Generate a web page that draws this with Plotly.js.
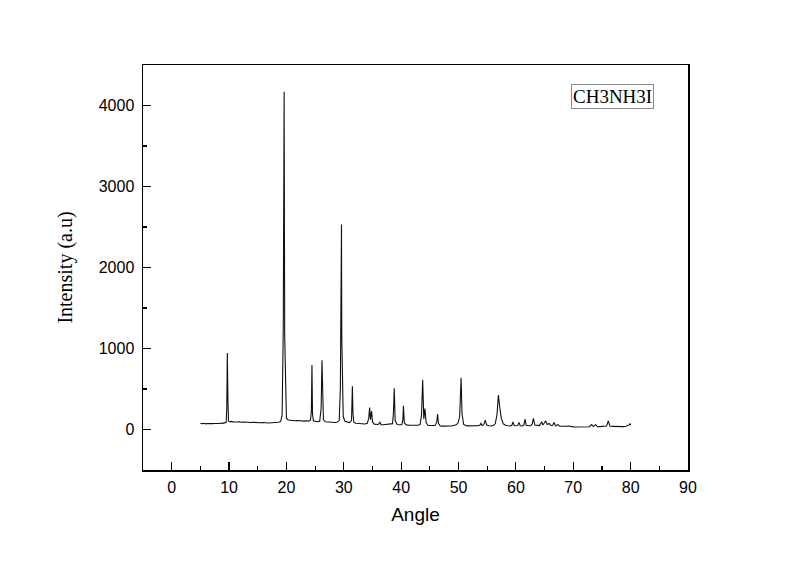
<!DOCTYPE html>
<html>
<head>
<meta charset="utf-8">
<script src="https://cdn.plot.ly/plotly-3.0.1.min.js"></script>
<style>
  body { margin: 0; background: #fff; }
  #plot-container { width: 800px; height: 564px; }
</style>
</head>
<body>
<div id="plot-container"></div>
<script>
// XRD pattern (2-theta angle, intensity)
const angle = [
  5.0, 5.3, 5.6, 5.9, 6.2, 6.5, 6.8, 7.1, 7.4, 7.7, 8.0, 8.3, 8.6, 8.9, 9.2, 9.5,
  9.6, 9.7, 9.8, 9.9, 10.1, 10.4, 10.7, 11.0, 11.4, 11.8, 12.2, 12.6, 13.0, 13.4,
  13.8, 14.2, 14.6, 15.0, 15.4, 15.8, 16.2, 16.6, 17.0, 17.4, 17.8, 18.2, 18.6,
  19.0, 19.25, 19.45, 19.55, 19.6, 19.7, 19.85, 20.0, 20.3, 20.7, 21.1, 21.5,
  21.9, 22.3, 22.7, 23.1, 23.5, 23.9, 24.2, 24.35, 24.45, 24.55, 24.7, 25.0,
  25.4, 25.8, 26.05, 26.2, 26.3, 26.45, 26.8, 27.2, 27.6, 28.0, 28.4, 28.8,
  29.2, 29.4, 29.5, 29.6, 29.65, 29.75, 29.9, 30.2, 30.6, 31.0, 31.35, 31.5,
  31.6, 31.75, 32.1, 32.5, 32.9, 33.3, 33.7, 34.1, 34.35, 34.5, 34.65, 34.85,
  35.0, 35.3, 35.7, 36.0, 36.3, 36.5, 36.9, 37.3, 37.7, 38.1, 38.5, 38.65,
  38.8, 38.95, 39.3, 39.7, 40.1, 40.3, 40.4, 40.55, 40.9, 41.3, 41.7, 42.1,
  42.5, 42.9, 43.3, 43.55, 43.75, 43.95, 44.15, 44.35, 44.7, 45.1, 45.5, 45.9,
  46.2, 46.35, 46.5, 46.8, 47.2, 47.6, 48.0, 48.4, 48.8, 49.2, 49.6, 49.9,
  50.2, 50.45, 50.6, 50.9, 51.3, 51.7, 52.1, 52.5, 52.9, 53.3, 53.7, 53.9,
  54.1, 54.4, 54.65, 54.9, 55.3, 55.7, 56.1, 56.4, 56.7, 56.95, 57.2, 57.45,
  57.8, 58.2, 58.6, 59.0, 59.3, 59.5, 59.7, 60.0, 60.3, 60.55, 60.75, 61.1,
  61.4, 61.6, 61.8, 62.2, 62.6, 62.85, 63.05, 63.3, 63.7, 64.1, 64.5, 64.7,
  64.95, 65.2, 65.45, 65.8, 66.1, 66.4, 66.65, 66.9, 67.1, 67.35, 67.6, 68.0,
  68.4, 68.8, 69.2, 69.6, 70.0, 70.4, 70.8, 71.2, 71.6, 72.0, 72.4, 72.8,
  73.2, 73.5, 73.9, 74.2, 74.6, 75.0, 75.4, 75.8, 76.1, 76.4, 76.8, 77.2,
  77.6, 78.0, 78.4, 78.8, 79.2, 79.5, 79.8, 79.9, 80.0
];
const intensity = [
  78, 72, 76, 70, 74, 71, 77, 73, 75, 72, 78, 74, 80, 76, 82, 88,
  260, 945, 380, 102, 96, 100, 94, 97, 92, 95, 89, 93, 88, 91, 86, 89,
  84, 87, 83, 86, 82, 85, 81, 84, 86, 83, 89,
  98, 180, 1250, 3810, 4170, 1150, 260, 140, 118, 112, 114, 108,
  111, 106, 109, 104, 107, 103, 115, 230, 795, 190, 108, 100,
  96, 102, 260, 855, 300, 120, 95, 92, 88, 90, 86, 89,
  110, 500, 2300, 2530, 1150, 420, 160, 100, 92, 85, 110, 535,
  200, 90, 78, 74, 71, 72, 68, 76, 140, 272, 120, 228,
  95, 66, 64, 62, 88, 60, 59, 62, 57, 60, 72, 200,
  510, 110, 62, 58, 60, 120, 292, 80, 56, 54, 52, 55,
  50, 53, 60, 180, 615, 130, 258, 85, 50, 48, 46, 50,
  90, 190, 75, 44, 42, 45, 41, 44, 43, 47, 58, 80,
  160, 640, 200, 62, 48, 45, 44, 46, 43, 48, 52, 75,
  50, 60, 115, 55, 46, 44, 52, 70, 180, 425, 265, 140,
  70, 52, 46, 44, 52, 95, 46, 45, 50, 88, 46, 44,
  58, 127, 52, 46, 48, 70, 136, 56, 50, 48, 94, 55,
  80, 107, 62, 74, 50, 52, 87, 46, 50, 62, 40, 38,
  36, 40, 44, 36, 32, 30, 31, 28, 30, 29, 32, 34,
  60, 36, 62, 34, 36, 38, 35, 42, 105, 42, 38, 36,
  37, 34, 38, 36, 40, 50, 60, 74, 50
];

const xTickVals = [0, 10, 20, 30, 40, 50, 60, 70, 80, 90];
const yTickVals = [0, 1000, 2000, 3000, 4000];
const sampleName = "CH3NH3I";

const plotContainer = document.getElementById("plot-container");

const sansFamily = "Liberation Sans";
const serifFamily = "Liberation Serif";
const tickFont = { family: sansFamily, size: 16, color: "#000" };

Plotly.newPlot(plotContainer, [
  {
    x: angle,
    y: intensity,
    type: "scatter",
    mode: "lines",
    line: { color: "#111", width: 1.1 },
    hoverinfo: "skip"
  }
], {
  width: 800,
  height: 564,
  margin: { l: 143, r: 112, t: 65, b: 94 },
  paper_bgcolor: "#fff",
  plot_bgcolor: "#fff",
  showlegend: false,
  xaxis: {
    range: [-5, 90],
    tickvals: xTickVals,
    ticks: "inside",
    ticklen: 8,
    tickwidth: 1.2,
    tickcolor: "#000",
    minor: { dtick: 5, ticks: "inside", ticklen: 4, tickwidth: 1.2, tickcolor: "#000" },
    showline: true,
    mirror: true,
    linecolor: "#000",
    linewidth: 1.5,
    showgrid: false,
    zeroline: false,
    tickfont: tickFont,
    ticklabelstandoff: 2,
    title: { text: "Angle", font: { family: sansFamily, size: 19, color: "#000" }, standoff: 13 },
    automargin: false
  },
  yaxis: {
    range: [-500, 4500],
    tickvals: yTickVals,
    ticks: "inside",
    ticklen: 8,
    tickwidth: 1.2,
    tickcolor: "#000",
    minor: { dtick: 500, ticks: "inside", ticklen: 4, tickwidth: 1.2, tickcolor: "#000" },
    showline: true,
    mirror: true,
    linecolor: "#000",
    linewidth: 1.5,
    showgrid: false,
    zeroline: false,
    tickfont: tickFont,
    ticklabelstandoff: 4,
    title: { text: "Intensity (a.u)", font: { family: serifFamily, size: 20, color: "#000" }, standoff: 20 },
    automargin: false
  },
  annotations: [
    {
      text: sampleName,
      xref: "paper",
      yref: "paper",
      x: 0.862,
      y: 0.921,
      xanchor: "center",
      yanchor: "middle",
      showarrow: false,
      font: { family: serifFamily, size: 19, color: "#000" },
      bordercolor: "#888",
      borderwidth: 1,
      borderpad: 1,
      bgcolor: "#fff"
    }
  ]
}, { displayModeBar: false, staticPlot: true });
</script>
</body>
</html>
